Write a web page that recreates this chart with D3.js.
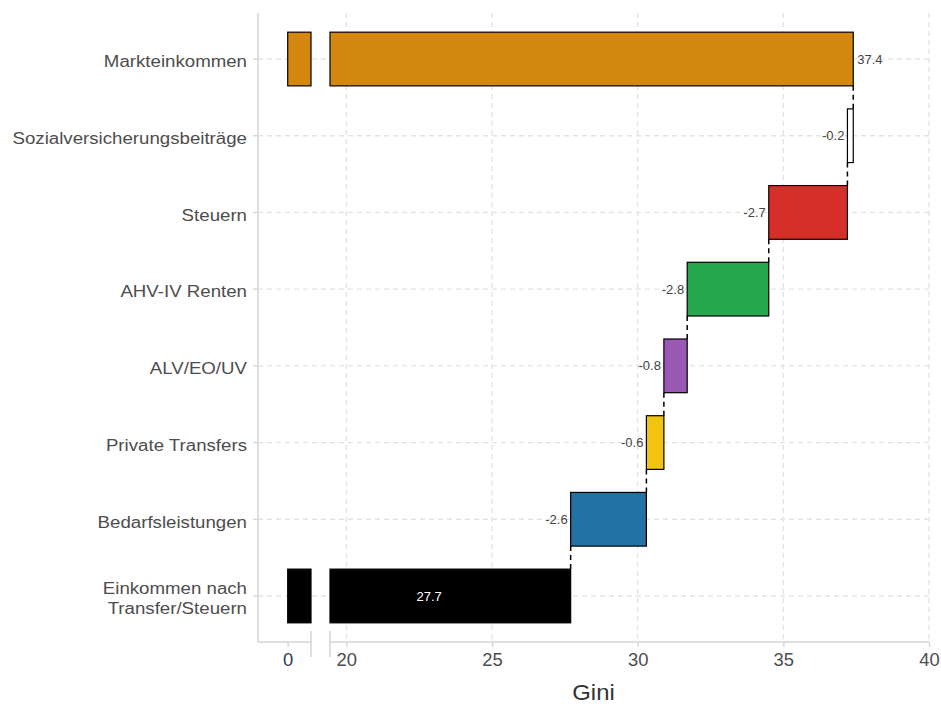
<!DOCTYPE html>
<html>
<head>
<meta charset="utf-8">
<script src="https://cdn.jsdelivr.net/npm/d3@7"></script>
<style>
  html, body { margin: 0; padding: 0; background: #fff; }
  svg { display: block; font-family: "Liberation Sans", Arial, Helvetica, sans-serif; }
</style>
</head>
<body>
<svg id="chart" width="941" height="704"></svg>
<script>
// ---- data ----
const categories = ["Markteinkommen", "Sozialversicherungsbeiträge", "Steuern", "AHV-IV Renten",
  "ALV/EO/UV", "Private Transfers", "Bedarfsleistungen", "Einkommen nach\nTransfer/Steuern"];
const changes = [37.4, -0.2, -2.7, -2.8, -0.8, -0.6, -2.6, 27.7];
const isTotal = [true, false, false, false, false, false, false, true];
const colors = ["#D4880F", "#FFFFFF", "#D62F2A", "#27A650", "#9B59B6", "#F1C40F", "#2471A3", "#000000"];
const xTicksLow = [0];
const xTicksHigh = [20, 25, 30, 35, 40];
const xTitle = "Gini";

// ---- layout ----
const panel = { left: 258, right: 929, top: 13, bottom: 642 };
const svg = d3.select("#chart");

// horizontal stretch helper (reference text is slightly wider than Liberation Sans)
function stretch(sel, f) {
  sel.each(function () {
    const len = this.getComputedTextLength();
    d3.select(this).attr("textLength", len * f).attr("lengthAdjust", "spacingAndGlyphs");
  });
}

// broken x axis: two linear segments
const brkLowDomain = [0, 0.8], brkHighDomain = [19.44, 40];
const xLow = d3.scaleLinear().domain(brkLowDomain).range([287.7, 311]);
const xHigh = d3.scaleLinear().domain(brkHighDomain).range([330, 929]);
const x = v => v <= brkLowDomain[1] ? xLow(v) : (v >= brkHighDomain[0] ? xHigh(v) : NaN);

const y = d3.scaleBand().domain(categories).range([panel.top, panel.bottom])
  .paddingInner(0.3).paddingOuter(0.25);

// compute waterfall start/end
let run = 0;
const rows = categories.map((c, i) => {
  let start, end;
  if (isTotal[i]) { start = 0; end = changes[i]; run = changes[i]; }
  else { start = run; end = run + changes[i]; run = end; }
  return { cat: c, start, end, change: changes[i], total: isTotal[i], color: colors[i] };
});

const gridColor = "#e3e3e3";
const axisColor = "#d4d4d4";

// grid lines
const grid = svg.append("g");
grid.selectAll("line.v").data(xTicksHigh).join("line")
  .attr("x1", d => xHigh(d)).attr("x2", d => xHigh(d))
  .attr("y1", panel.top).attr("y2", panel.bottom)
  .attr("stroke", gridColor).attr("stroke-width", 1.3).attr("stroke-dasharray", "5,4");
grid.selectAll("line.h").data(categories).join("line")
  .attr("x1", panel.left).attr("x2", panel.right)
  .attr("y1", d => y(d) + y.bandwidth() / 2).attr("y2", d => y(d) + y.bandwidth() / 2)
  .attr("stroke", gridColor).attr("stroke-width", 1.3).attr("stroke-dasharray", "5,4");

// connectors
const conn = svg.append("g");
rows.slice(0, -1).forEach((r, i) => {
  const nxt = rows[i + 1];
  conn.append("line")
    .attr("x1", x(r.end)).attr("x2", x(r.end))
    .attr("y1", y(r.cat) + y.bandwidth()).attr("y2", y(nxt.cat))
    .attr("stroke", "#000").attr("stroke-width", 1.5).attr("stroke-dasharray", "5,4");
});

// bars
const bars = svg.append("g");
rows.forEach(r => {
  const yy = y(r.cat), h = y.bandwidth();
  if (r.total) {
    [[0, brkLowDomain[1]], [brkHighDomain[0], r.end]].forEach(([a, b]) => {
      bars.append("rect")
        .attr("x", x(a)).attr("y", yy).attr("width", x(b) - x(a)).attr("height", h)
        .attr("fill", r.color).attr("stroke", "#000").attr("stroke-width", 1.2);
    });
  } else {
    const a = Math.min(r.start, r.end), b = Math.max(r.start, r.end);
    bars.append("rect")
      .attr("x", x(a)).attr("y", yy).attr("width", x(b) - x(a)).attr("height", h)
      .attr("fill", r.color).attr("stroke", "#000").attr("stroke-width", 1.2);
  }
});

// value labels
const labels = svg.append("g").attr("font-size", 13);
rows.forEach((r, i) => {
  const cy = y(r.cat) + y.bandwidth() / 2;
  const t = labels.append("text").attr("y", cy).attr("dy", "0.35em").text(r.change.toFixed(1));
  if (i === 0) {
    t.attr("x", x(r.end) + 4).attr("text-anchor", "start").attr("fill", "#444");
  } else if (r.total) {
    t.attr("x", (x(0) + x(r.end)) / 2).attr("text-anchor", "middle").attr("fill", "#fff");
  } else {
    t.attr("x", x(Math.min(r.start, r.end)) - 3).attr("text-anchor", "end").attr("fill", "#444");
  }
});

// y axis
svg.append("line").attr("x1", panel.left).attr("x2", panel.left)
  .attr("y1", panel.top).attr("y2", panel.bottom)
  .attr("stroke", axisColor).attr("stroke-width", 1.5);
const yAx = svg.append("g");
categories.forEach(c => {
  const cy = y(c) + y.bandwidth() / 2;
  yAx.append("line").attr("x1", panel.left - 5).attr("x2", panel.left)
    .attr("y1", cy).attr("y2", cy).attr("stroke", axisColor).attr("stroke-width", 1.3);
  const lines = c.split("\n");
  const lh = 20;
  const t = yAx.append("text").attr("text-anchor", "end").attr("font-size", 17.3).attr("fill", "#4d4d4d");
  lines.forEach((ln, k) => {
    t.append("tspan").attr("x", panel.left - 11)
      .attr("y", cy + (k - (lines.length - 1) / 2) * lh)
      .attr("dy", "0.48em").text(ln);
  });
  stretch(t.selectAll("tspan"), 1.08);
});

// x axis (broken)
const xAxG = svg.append("g");
xAxG.append("line").attr("x1", panel.left).attr("x2", xLow.range()[1])
  .attr("y1", panel.bottom).attr("y2", panel.bottom).attr("stroke", axisColor).attr("stroke-width", 1.5);
xAxG.append("line").attr("x1", xHigh.range()[0]).attr("x2", panel.right)
  .attr("y1", panel.bottom).attr("y2", panel.bottom).attr("stroke", axisColor).attr("stroke-width", 1.5);
// break marks
[xLow.range()[1], xHigh.range()[0]].forEach(bx => {
  xAxG.append("line").attr("x1", bx).attr("x2", bx).attr("y1", panel.bottom - 11).attr("y2", panel.bottom + 15)
    .attr("stroke", axisColor).attr("stroke-width", 1.5);
});
const lowAxis = d3.axisBottom(xLow).tickValues(xTicksLow).tickSize(5).tickPadding(7).tickFormat(d3.format("d"));
const highAxis = d3.axisBottom(xHigh).tickValues(xTicksHigh).tickSize(5).tickPadding(7).tickFormat(d3.format("d"));
[[lowAxis, "#2f3e4e"], [highAxis, "#4d4d4d"]].forEach(([ax, col]) => {
  const g = svg.append("g").attr("transform", `translate(0,${panel.bottom})`).call(ax);
  g.select(".domain").remove();
  g.selectAll(".tick line").attr("stroke", axisColor).attr("stroke-width", 1.3);
  const tt = g.selectAll(".tick text").attr("font-size", 17.5).attr("fill", col)
    .attr("font-family", "Liberation Sans, Arial, sans-serif");
  stretch(tt, 1.05);
});

// x title
const title = svg.append("text").attr("x", (panel.left + panel.right) / 2).attr("y", 700)
  .attr("text-anchor", "middle").attr("font-size", 22.5).attr("fill", "#333").text(xTitle);
stretch(title, 1.06);
</script>
</body>
</html>
